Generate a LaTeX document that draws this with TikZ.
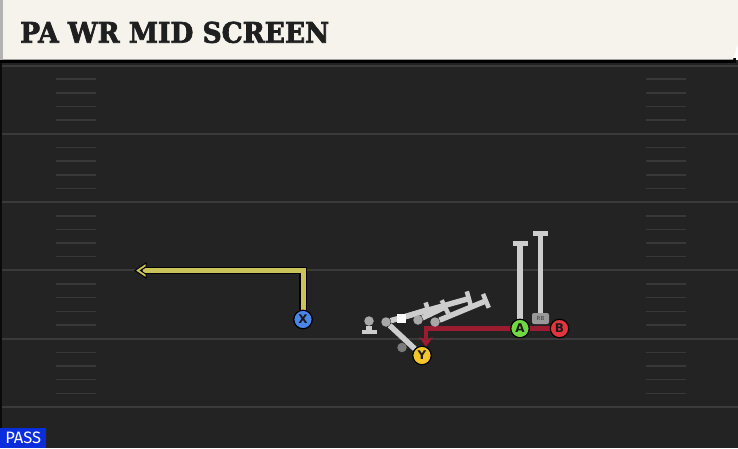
\documentclass[tikz,border=0pt]{standalone}
\usepackage{fontspec}
\setsansfont{DejaVu Sans}
\newfontfamily\titlefont{DejaVu Serif}[UprightFont={* Bold},FakeBold=2.5]
\newfontfamily\passfont{Fira Sans}
\usetikzlibrary{arrows.meta,calc}
\definecolor{fieldc}{HTML}{232323}
\definecolor{yardc}{HTML}{3A3A3A}
\definecolor{hashc}{HTML}{383838}
\definecolor{titlebg}{HTML}{F5F3EC}
\definecolor{routeY}{HTML}{C9C35A}
\definecolor{routeR}{HTML}{9B1C31}
\definecolor{blockc}{HTML}{CDCDCD}
\definecolor{dotc}{HTML}{A8A8A8}
\definecolor{qbc}{HTML}{7A7A7A}
\definecolor{xcol}{HTML}{4A86E8}
\definecolor{ycol}{HTML}{F2C52A}
\definecolor{acol}{HTML}{6FD941}
\definecolor{bcol}{HTML}{E2353D}
\definecolor{passc}{HTML}{0B2EDD}
\pgfdeclarelayer{bg}
\pgfdeclarelayer{routes}
\pgfsetlayers{bg,routes,main}
\begin{document}
\begin{tikzpicture}[x=1pt,y=-1pt,
  player/.style={circle,draw=black,line width=1.2pt,minimum size=18.5pt,inner sep=0pt,
    font=\sffamily\bfseries\fontsize{12}{12}\selectfont,text=black!90},
  lineman/.style={circle,fill=dotc,minimum size=9.5pt,inner sep=0pt},
  blockline/.style={draw=blockc,line width=5.5pt,-{Bar[width=15pt,line width=4.5pt]}},
  yardline/.style={draw=yardc,line width=2pt},
  hashmark/.style={draw=hashc,line width=1.5pt}]
\useasboundingbox (0,0) rectangle (738,448);
% field
\begin{pgfonlayer}{bg}
\fill[fieldc] (0,60) rectangle (738,448);
\draw[draw=black!70!fieldc,line width=1.5pt] (0.75,60) -- (0.75,448);
\foreach \k in {0,...,5} {
  \pgfmathsetmacro{\yy}{65.5+68.3*\k}
  \draw[yardline] (2,\yy) -- (738,\yy);
}
\foreach \k in {0,...,4} {
  \foreach \j in {1,...,4} {
    \pgfmathsetmacro{\yy}{65.5+68.3*\k+13.66*\j}
    \draw[hashmark] (56,\yy) -- (96,\yy);
    \draw[hashmark] (646,\yy) -- (686,\yy);
  }
}
% title bar
\fill[black] (0,58) rectangle (736,62.5);
\fill[titlebg] (3,0) -- (738,0) -- (738,44) -- (733,59.5) -- (3,59.5) -- cycle;
\fill[black!30] (0,0) rectangle (3,59.5);
\end{pgfonlayer}
\node[anchor=base west,inner sep=0pt,text=black!88] (title) at (20,42.7)
  {\resizebox{309pt}{21pt}{\titlefont PA WR MID SCREEN}};
% PASS label
\node[fill=passc,text=white,inner sep=0pt,minimum width=46pt,minimum height=20pt,
  anchor=south west,font=\passfont\fontsize{16.5}{16.5}\selectfont] (pass) at (0,448) {PASS};
% players
\node[player,fill=xcol] (X) at (303,319.5) {X};
\node[player,fill=ycol] (Y) at (422,355.5) {Y};
\node[player,fill=acol] (A) at (520,328.5) {A};
\node[player,fill=bcol] (B) at (559.5,328.5) {B};
\node[rounded corners=2pt,fill=black!40,minimum width=17pt,minimum height=11pt,inner sep=0pt,
  text=black!75,font=\sffamily\fontsize{5.5}{5.5}\selectfont] (RB) at (540.5,318.5) {RB};
% line
\node[lineman] (LT) at (369,321) {};
\node[lineman] (LG) at (386,322) {};
\node[fill=white,minimum size=9pt,inner sep=0pt] (C) at (401,318) {};
\node[lineman] (RG) at (418,320) {};
\node[lineman] (RT) at (435,322) {};
\node[lineman,fill=qbc] (QB) at (402,347.5) {};
% route coordinates
\coordinate (Xturn) at (303,270.5);
\coordinate (Xend) at (143,270.5);
\coordinate (Rturn) at (426,328.5);
\coordinate (Rend) at (426,339);
\coordinate (LTend) at (369,334);
\coordinate (LGend) at (471,298);
\coordinate (Cend) at (430,309);
\coordinate (RGend) at (447,306);
\coordinate (RTend) at (488,300);
\coordinate (Aend) at (520,241);
\coordinate (RBend) at (540.5,231);
\begin{pgfonlayer}{routes}
% blocking lines
\draw[blockline] (LT) -- (LTend);
\draw[blockline,-] (LG) -- (Y);
\draw[blockline] (LG) -- (LGend);
\draw[blockline] (C) -- (Cend);
\draw[blockline] (RG) -- (RGend);
\draw[blockline] (RT) -- (RTend);
\draw[blockline] (A.north) -- (Aend);
\draw[blockline] (RB.north) -- (RBend);
% X route
\draw[black,line width=7.5pt] (X.north) -- (Xturn) -- (Xend);
\draw[routeY,line width=5pt] (X.north) -- (Xturn) -- (Xend);
\draw[fill=routeY,draw=black,line width=1pt] (Xend) ++(-8,0) -- ++(11,-7.5) -- ++(0,3.8)
  -- ++(-5.5,3.7) -- ++(5.5,3.7) -- ++(0,3.8) -- cycle;
% B route
\draw[routeR,line width=4.5pt] (B.center) -- (Rturn) -- (Rend);
\fill[routeR] (Rend) ++(0,7.5) -- ++(-7,-9.5) -- ++(7,3) -- ++(7,-3) -- cycle;
\end{pgfonlayer}
\end{tikzpicture}
\end{document}
